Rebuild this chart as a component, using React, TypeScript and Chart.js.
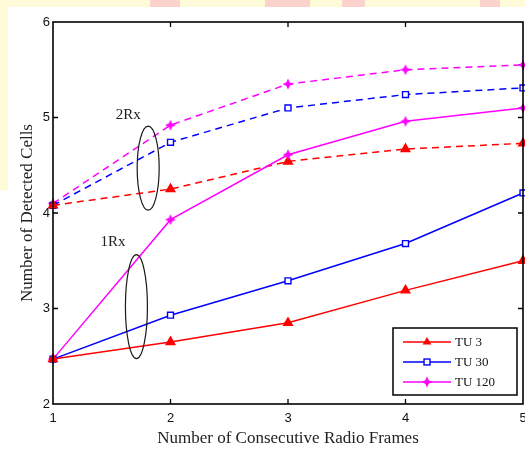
import React, { useEffect, useRef } from 'react';
import { Chart, registerables } from 'chart.js';

Chart.register(...registerables);

// ---------- data ----------
const frames = [1, 2, 3, 4, 5];
const yTickValues = [2, 3, 4, 5, 6];
const seriesNames = ['TU 3', 'TU 30', 'TU 120'];

// 1 receive antenna (solid)
const tu3OneRx = [2.47, 2.65, 2.85, 3.19, 3.5];
const tu30OneRx = [2.47, 2.93, 3.29, 3.68, 4.21];
const tu120OneRx = [2.47, 3.93, 4.61, 4.96, 5.1];
// 2 receive antennas (dashed)
const tu3TwoRx = [4.08, 4.25, 4.54, 4.67, 4.73];
const tu30TwoRx = [4.08, 4.74, 5.1, 5.24, 5.31];
const tu120TwoRx = [4.1, 4.92, 5.35, 5.5, 5.55];

// group annotations (data coordinates)
const groupLabels = ['2Rx', '1Rx'];
const groupLabelX = [1.64, 1.51];
const groupLabelY = [5.03, 3.7];
const ellipseCx = [1.81, 1.71];
const ellipseCy = [4.47, 3.02];
const ellipseRy = [0.44, 0.545];

const xTitle = 'Number of Consecutive Radio Frames';
const yTitle = 'Number of Detected Cells';

const RED = '#ff0000';
const BLUE = '#0000ff';
const MAGENTA = '#ff00ff';
const SERIF = '"Liberation Serif", "Times New Roman", serif';
const SANS = '"Liberation Sans", Arial, sans-serif';

function makeStar(color: string): HTMLCanvasElement {
  const c = document.createElement('canvas');
  c.width = 12;
  c.height = 12;
  const ctx = c.getContext('2d')!;
  const cx = 6, cy = 6, R = 5.5, r = 2.4;
  ctx.fillStyle = color;
  ctx.beginPath();
  for (let i = 0; i < 8; i++) {
    const a = (Math.PI / 4) * i - Math.PI / 2;
    const rad = i % 2 === 0 ? R : r;
    const px = cx + rad * Math.cos(a);
    const py = cy + rad * Math.sin(a);
    if (i === 0) ctx.moveTo(px, py);
    else ctx.lineTo(px, py);
  }
  ctx.closePath();
  ctx.fill();
  return c;
}

function ds(label: string, values: number[], color: string, marker: any, radius: number, filled: boolean, dashed: boolean, legend: boolean) {
  return {
    label,
    legendShow: legend,
    data: values.map((v, i) => ({ x: frames[i], y: v })),
    borderColor: color,
    backgroundColor: color,
    borderWidth: 1.5,
    borderDash: dashed ? [7, 5] : [],
    pointStyle: marker,
    pointRadius: radius,
    pointHoverRadius: radius,
    pointBorderColor: color,
    pointBackgroundColor: filled ? color : '#ffffff',
    pointBorderWidth: 1.4,
    tension: 0,
    fill: false,
    clip: false,
  };
}

const framePlugin = {
  id: 'framePlugin',
  afterDatasetsDraw(chart: any) {
    const { ctx, chartArea, scales } = chart;
    const { left, right, top, bottom } = chartArea;
    const xs = scales.x;
    const ys = scales.y;
    ctx.save();
    // box
    ctx.strokeStyle = '#000';
    ctx.lineWidth = 1.6;
    ctx.setLineDash([]);
    ctx.strokeRect(left, top, right - left, bottom - top);
    // inward ticks
    ctx.lineWidth = 1.3;
    const tl = 5;
    frames.slice(1, -1).forEach((v) => {
      const px = xs.getPixelForValue(v);
      ctx.beginPath();
      ctx.moveTo(px, bottom);
      ctx.lineTo(px, bottom - tl);
      ctx.moveTo(px, top);
      ctx.lineTo(px, top + tl);
      ctx.stroke();
    });
    yTickValues.slice(1, -1).forEach((v) => {
      const py = ys.getPixelForValue(v);
      ctx.beginPath();
      ctx.moveTo(left, py);
      ctx.lineTo(left + tl, py);
      ctx.moveTo(right, py);
      ctx.lineTo(right - tl, py);
      ctx.stroke();
    });
    // ellipses + group labels
    ctx.strokeStyle = '#1a1a1a';
    ctx.lineWidth = 1.2;
    ellipseCx.forEach((cxv, i) => {
      const cx = xs.getPixelForValue(cxv);
      const cy = ys.getPixelForValue(ellipseCy[i]);
      const ry = Math.abs(ys.getPixelForValue(ellipseCy[i] + ellipseRy[i]) - cy);
      ctx.beginPath();
      ctx.ellipse(cx, cy, 11, ry, 0, 0, Math.PI * 2);
      ctx.stroke();
    });
    ctx.fillStyle = '#222';
    ctx.font = `15px ${SERIF}`;
    ctx.textAlign = 'center';
    ctx.textBaseline = 'middle';
    groupLabels.forEach((t, i) => {
      ctx.fillText(t, xs.getPixelForValue(groupLabelX[i]), ys.getPixelForValue(groupLabelY[i]));
    });

    // legend
    const shown = chart.data.datasets.filter((d: any) => d.legendShow);
    const bw = 124, bh = 67;
    const bx = right - 130;
    const by = bottom - 76;
    ctx.fillStyle = '#fff';
    ctx.fillRect(bx, by, bw, bh);
    ctx.strokeStyle = '#000';
    ctx.lineWidth = 1.5;
    ctx.strokeRect(bx, by, bw, bh);
    ctx.font = `13px ${SERIF}`;
    ctx.textAlign = 'left';
    shown.forEach((d: any, i: number) => {
      const yy = by + 14 + i * 20;
      const x0 = bx + 10, x1 = bx + 58, xm = (x0 + x1) / 2;
      ctx.strokeStyle = d.borderColor;
      ctx.lineWidth = 1.5;
      ctx.beginPath();
      ctx.moveTo(x0, yy);
      ctx.lineTo(x1, yy);
      ctx.stroke();
      // marker
      if (d.pointStyle === 'triangle') {
        const r = d.pointRadius;
        ctx.fillStyle = d.borderColor;
        ctx.beginPath();
        ctx.moveTo(xm, yy - r);
        ctx.lineTo(xm + r * 0.866, yy + r * 0.5);
        ctx.lineTo(xm - r * 0.866, yy + r * 0.5);
        ctx.closePath();
        ctx.fill();
      } else if (d.pointStyle === 'rect') {
        const s = d.pointRadius * Math.SQRT1_2;
        ctx.fillStyle = '#fff';
        ctx.fillRect(xm - s, yy - s, 2 * s, 2 * s);
        ctx.lineWidth = 1.4;
        ctx.strokeRect(xm - s, yy - s, 2 * s, 2 * s);
      } else {
        const img = d.pointStyle as HTMLCanvasElement;
        ctx.drawImage(img, xm - img.width / 2, yy - img.height / 2);
      }
      ctx.fillStyle = '#111';
      ctx.fillText(d.label, x1 + 4, yy + 1);
    });
    ctx.restore();
  },
};

export default function App() {
  const ref = useRef<HTMLCanvasElement | null>(null);
  useEffect(() => {
    if (!ref.current) return;
    const star = makeStar(MAGENTA);
    const datasets: any[] = [
      ds(seriesNames[0], tu3OneRx, RED, 'triangle', 5, true, false, true),
      ds(seriesNames[1], tu30OneRx, BLUE, 'rect', 4.2, false, false, true),
      ds(seriesNames[2], tu120OneRx, MAGENTA, star, 6, true, false, true),
      ds(seriesNames[0] + ' 2Rx', tu3TwoRx, RED, 'triangle', 5, true, true, false),
      ds(seriesNames[1] + ' 2Rx', tu30TwoRx, BLUE, 'rect', 4.2, false, true, false),
      ds(seriesNames[2] + ' 2Rx', tu120TwoRx, MAGENTA, star, 6, true, true, false),
    ];
    const chart = new Chart(ref.current, {
      type: 'line',
      data: { datasets },
      plugins: [framePlugin],
      options: {
        animation: false,
        responsive: false,
        devicePixelRatio: 1,
        layout: { autoPadding: false, padding: { left: 0, top: 22, right: 2, bottom: 0 } },
        plugins: { legend: { display: false }, tooltip: { enabled: false } },
        scales: {
          x: {
            type: 'linear',
            min: frames[0],
            max: frames[frames.length - 1],
            afterBuildTicks: (s: any) => {
              s.ticks = frames.map((v) => ({ value: v }));
            },
            afterFit: (s: any) => {
              s.height = 47;
              s.paddingLeft = 0;
              s.paddingRight = 0;
            },
            grid: { display: false, drawTicks: false },
            border: { display: false },
            ticks: {
              padding: 7,
              color: '#111',
              font: { family: SANS, size: 13 },
              maxRotation: 0,
            },
            title: {
              display: true,
              text: xTitle,
              color: '#222',
              font: { family: SERIF, size: 17 },
              padding: { top: 0, bottom: 2 },
            },
          },
          y: {
            type: 'linear',
            min: yTickValues[0],
            max: yTickValues[yTickValues.length - 1],
            afterBuildTicks: (s: any) => {
              s.ticks = yTickValues.map((v) => ({ value: v }));
            },
            afterFit: (s: any) => {
              s.width = 53;
              s.paddingTop = 0;
              s.paddingBottom = 0;
            },
            grid: { display: false, drawTicks: false },
            border: { display: false },
            ticks: {
              padding: 3,
              color: '#111',
              font: { family: SANS, size: 13 },
            },
            title: {
              display: true,
              text: yTitle,
              color: '#222',
              font: { family: SERIF, size: 17 },
              padding: { top: 17, bottom: 0 },
            },
          },
        },
      } as any,
    });
    return () => chart.destroy();
  }, []);

  const strip = '#fffbd9';
  const pink = '#fbd3cc';
  return (
    <div style={{ position: 'absolute', left: 0, top: 0, width: 525, height: 451, background: '#fff', overflow: 'hidden' }}>
      <div style={{ position: 'absolute', left: 0, top: 0, width: 525, height: 7, background: strip }} />
      <div style={{ position: 'absolute', left: 0, top: 0, width: 8, height: 190, background: strip }} />
      <div style={{ position: 'absolute', left: 150, top: 0, width: 30, height: 7, background: pink }} />
      <div style={{ position: 'absolute', left: 265, top: 0, width: 45, height: 7, background: pink }} />
      <div style={{ position: 'absolute', left: 342, top: 0, width: 23, height: 7, background: pink }} />
      <div style={{ position: 'absolute', left: 480, top: 0, width: 20, height: 7, background: pink }} />
      <canvas ref={ref} width={525} height={451} style={{ position: 'absolute', left: 0, top: 0, width: 525, height: 451 }} />
    </div>
  );
}
